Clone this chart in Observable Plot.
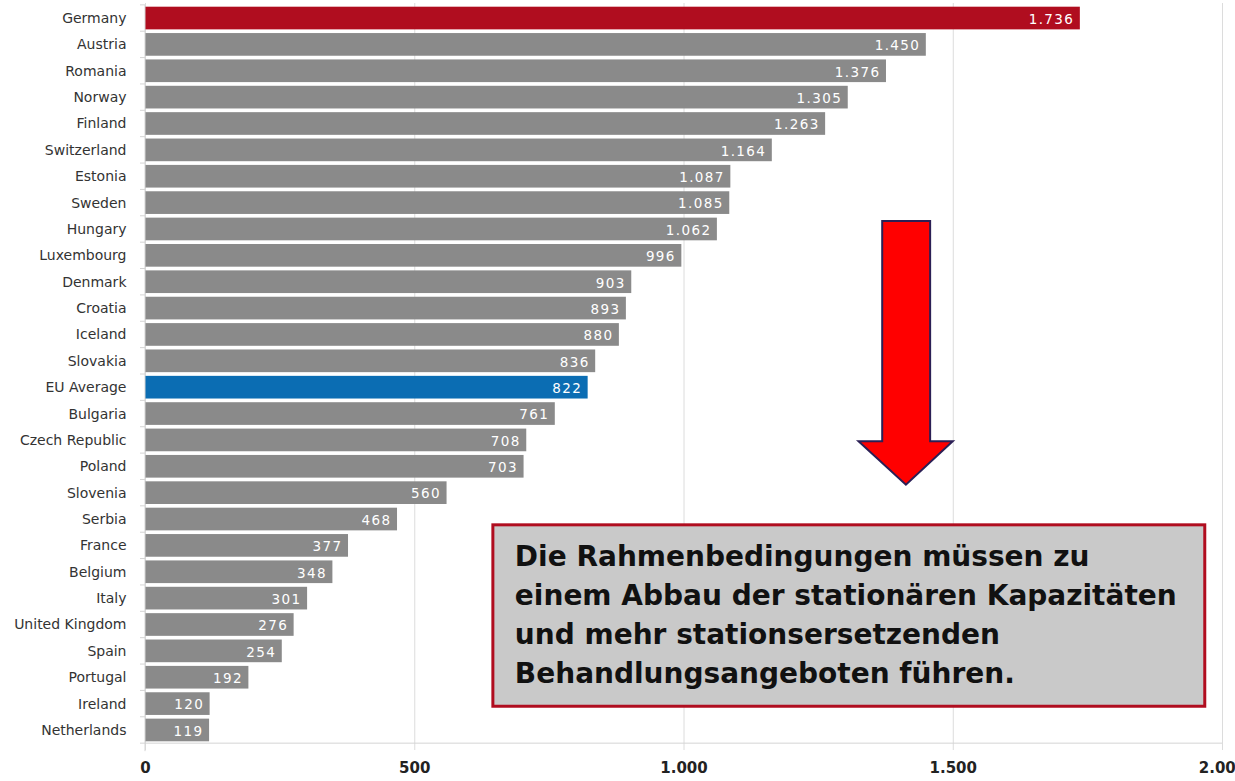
<!DOCTYPE html>
<html>
<head>
<meta charset="utf-8">
<script src="https://cdn.jsdelivr.net/npm/d3@7"></script>
<script src="https://cdn.jsdelivr.net/npm/@observablehq/plot@0.6"></script>
<style>
  html, body { margin: 0; padding: 0; background: #fff; }
  #chart svg { display: block; }
</style>
</head>
<body>
<div id="chart"></div>
<script>
const countries = ["Germany","Austria","Romania","Norway","Finland","Switzerland","Estonia","Sweden","Hungary","Luxembourg","Denmark","Croatia","Iceland","Slovakia","EU Average","Bulgaria","Czech Republic","Poland","Slovenia","Serbia","France","Belgium","Italy","United Kingdom","Spain","Portugal","Ireland","Netherlands"];
const values = [1736,1450,1376,1305,1263,1164,1087,1085,1062,996,903,893,880,836,822,761,708,703,560,468,377,348,301,276,254,192,120,119];
const highlightRed = ["Germany"];
const highlightBlue = ["EU Average"];
const xTicks = [0, 500, 1000, 1500, 2000];
const noteLines = [
  "Die Rahmenbedingungen müssen zu",
  "einem Abbau der stationären Kapazitäten",
  "und mehr stationsersetzenden",
  "Behandlungsangeboten führen."
];

const data = countries.map((c, i) => ({country: c, value: values[i]}));
const de = d3.formatLocale({decimal: ",", thousands: ".", grouping: [3], currency: ["", "€"]});
const fmt = de.format(",d");
const barColor = d => highlightRed.includes(d.country) ? "#b00d1f" : highlightBlue.includes(d.country) ? "#0b6db3" : "#8a8a8a";

const chart = Plot.plot({
  width: 1235,
  height: 781,
  marginLeft: 145,
  marginRight: 13,
  marginTop: 3,
  marginBottom: 36,
  style: {fontFamily: "DejaVu Sans, sans-serif", background: "#fff"},
  x: {domain: [0, 2000], ticks: xTicks, tickFormat: fmt},
  y: {domain: countries, padding: 0.14, round: false},
  marks: [
    Plot.gridX(xTicks, {stroke: "#dcdcdc", strokeOpacity: 1, strokeWidth: 1}),
    Plot.barX(data, {x: "value", y: "country", fill: barColor}),
    Plot.text(data, {x: "value", y: "country", text: d => fmt(d.value), textAnchor: "end", dx: -6, dy: 1, fill: "#fff", fontSize: 13.5, className: "vlab"}),
    Plot.axisY({tickSize: 0, tickPadding: 19, fontSize: 14, label: null, color: "#333"}),
    Plot.axisX(xTicks, {tickSize: 5, tickPadding: 12, fontSize: 15, fontWeight: "bold", label: null, stroke: "#dcdcdc", color: "#222", tickFormat: fmt})
  ]
});

document.getElementById("chart").appendChild(chart);

const svg = d3.select(chart);
svg.style("overflow", "hidden");
svg.selectAll(".vlab text").attr("letter-spacing", "1.4px");

const xs = chart.scale("x");
const ys = chart.scale("y");
const X = v => xs.apply(v);
const y0 = ys.apply(countries[0]);
const step = ys.apply(countries[1]) - y0;
const bw = ys.bandwidth;
const bandTop0 = y0 - (step - bw) / 2;
const Y = f => bandTop0 + f * step; // f = fractional band index
const yBottom = Y(countries.length);

const g = svg.append("g");
// left axis line and small category ticks
g.append("line").attr("x1", X(0)).attr("x2", X(0)).attr("y1", Y(0)).attr("y2", yBottom + 8)
  .attr("stroke", "#d4d4d4");
for (let i = 0; i <= countries.length; i++) {
  g.append("line").attr("x1", X(0) - 5).attr("x2", X(0)).attr("y1", Y(i)).attr("y2", Y(i)).attr("stroke", "#d4d4d4");
}
// bottom baseline
g.append("line").attr("x1", X(0)).attr("x2", X(2000)).attr("y1", yBottom).attr("y2", yBottom).attr("stroke", "#d4d4d4");

// arrow (data coordinates: x in units, y in band index)
const arrow = [
  [1369, 8.2], [1458, 8.2], [1458, 16.55], [1500, 16.55], [1413, 18.2], [1325, 16.55], [1369, 16.55]
];
g.append("path")
  .attr("d", "M" + arrow.map(([a, b]) => X(a) + "," + Y(b)).join("L") + "Z")
  .attr("fill", "#ff0000").attr("stroke", "#2b1f55").attr("stroke-width", 2).attr("stroke-linejoin", "miter");

// note box
const bx1 = X(646), bx2 = X(1968), by1 = Y(19.72), by2 = Y(26.6);
g.append("rect").attr("x", bx1).attr("y", by1).attr("width", bx2 - bx1).attr("height", by2 - by1)
  .attr("fill", "#c9c9c9").attr("stroke", "#b00d1f").attr("stroke-width", 3);
const t = g.append("text").attr("font-family", "DejaVu Sans, sans-serif").attr("font-size", 28)
  .attr("font-weight", "bold").attr("fill", "#111").attr("text-anchor", "start");
noteLines.forEach((line, i) => {
  t.append("tspan").attr("x", bx1 + 22).attr("y", by1 + 41 + i * 39).text(line);
});
</script>
</body>
</html>
